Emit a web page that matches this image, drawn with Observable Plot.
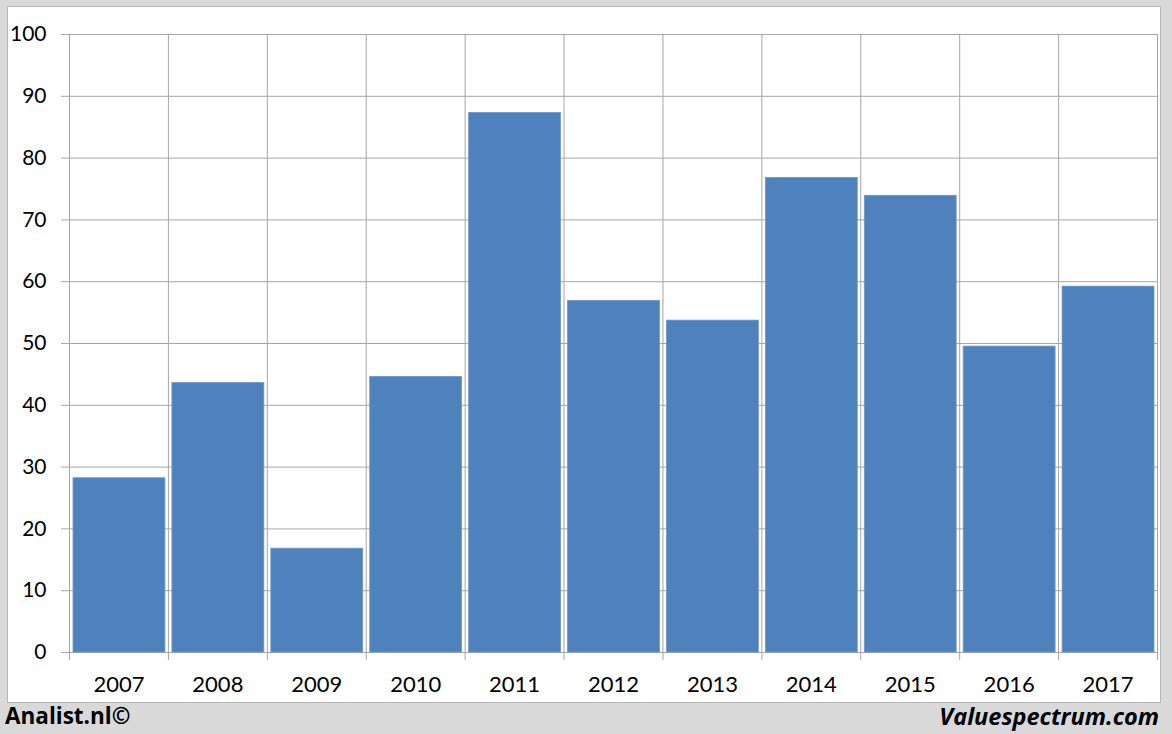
<!DOCTYPE html>
<html>
<head>
<meta charset="utf-8">
<script src="https://cdn.jsdelivr.net/npm/d3@7"></script>
<script src="https://cdn.jsdelivr.net/npm/@observablehq/plot@0.6"></script>
<style>
  html, body { margin: 0; padding: 0; background: #d9d9d9; }
  #wrap { position: relative; width: 1172px; height: 734px; background: #d9d9d9; overflow: hidden; font-family: "Open Sans", Lato, sans-serif; }
  #panel { position: absolute; left: 7px; top: 6px; width: 1152px; height: 695px; background: #fff; border: 1px solid #b8b8b8; }
  #panel svg { display: block; }
  .foot { position: absolute; top: 701px; font-weight: bold; color: #000; line-height: 30px; }
  #left { left: 5px; font-size: 22.5px; }
  #right { right: 13px; font-style: italic; font-size: 23.5px; }
</style>
</head>
<body>
<div id="wrap">
  <div id="panel"></div>
  <div class="foot" id="left">Analist.nl©</div>
  <div class="foot" id="right">Valuespectrum.com</div>
</div>
<script>
const years = ["2007","2008","2009","2010","2011","2012","2013","2014","2015","2016","2017"];
const values = [28.2, 43.6, 16.8, 44.6, 87.3, 56.9, 53.7, 76.8, 73.9, 49.5, 59.2];
const yTicks = [0, 10, 20, 30, 40, 50, 60, 70, 80, 90, 100];

const data = years.map((y, i) => ({year: y, value: values[i]}));

const W = 1152, H = 695;
const mL = 61, mR = 3, mT = 27, mB = 50;
const bw = (W - mL - mR) / years.length;
const grid = "#a6a6a6";

const chart = Plot.plot({
  width: W,
  height: H,
  marginLeft: mL,
  marginRight: mR,
  marginTop: mT,
  marginBottom: mB,
  style: {fontFamily: "Lato, 'Open Sans', sans-serif", fontSize: "21px", color: "#000", background: "transparent"},
  x: {domain: years, padding: 0, round: false, label: null},
  y: {domain: [0, 100], label: null},
  marks: [
    Plot.ruleY(yTicks, {stroke: grid, strokeWidth: 1, insetLeft: -8}),
    Plot.ruleX(years, {stroke: grid, strokeWidth: 1, dx: -bw / 2, insetBottom: -8}),
    Plot.ruleX([years[years.length - 1]], {stroke: grid, strokeWidth: 1, dx: bw / 2, insetBottom: -8}),
    Plot.barY(data, {x: "year", y: "value", fill: "#4f81bd", stroke: "#6f97c9", strokeWidth: 0.8, insetLeft: 4, insetRight: 3}),
    Plot.axisY(yTicks, {tickSize: 0, tickPadding: 23, fontSize: 21, label: null}),
    Plot.axisX({tickSize: 0, tickPadding: 24, fontSize: 22, label: null})
  ]
});
document.getElementById("panel").appendChild(chart);
</script>
</body>
</html>
